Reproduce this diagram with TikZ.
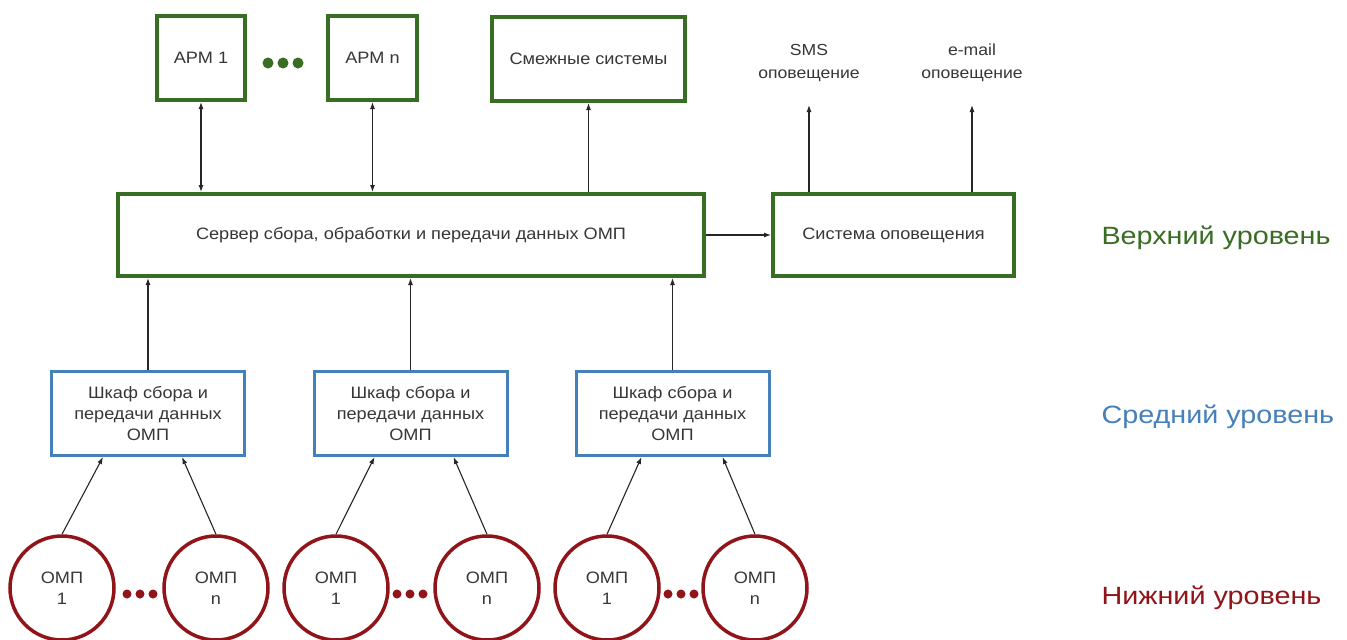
\documentclass[tikz,border=0pt]{standalone}
\usepackage{fontspec}
\setmainfont{Liberation Sans}[FakeStretch=1.1]
\newfontfamily\lvlfont{Liberation Sans}[FakeStretch=1.15]
\usetikzlibrary{arrows.meta,calc}
\definecolor{topgreen}{RGB}{56,110,35}
\definecolor{midblue}{RGB}{70,128,185}
\definecolor{lowred}{RGB}{145,20,25}
\definecolor{txt}{RGB}{55,55,55}
\begin{document}
\begin{tikzpicture}[x=1pt,y=-1pt,
  topbox/.style={draw=topgreen,line width=4pt,inner sep=0pt,align=center,text=txt,font=\fontsize{16.5}{19}\selectfont},
  midbox/.style={draw=midblue,line width=3pt,inner sep=0pt,align=center,text=txt,font=\fontsize{16.5}{21}\selectfont,minimum width=193pt,minimum height=84pt},
  omp/.style={draw=lowred,line width=3.5pt,circle,inner sep=0pt,minimum size=104pt,align=center,text=txt,font=\fontsize{16.5}{21}\selectfont},
  plain/.style={align=center,text=txt,font=\fontsize{16}{23}\selectfont},
  lvl/.style={anchor=west,font=\lvlfont\fontsize{25}{28}\selectfont},
  conn/.style={draw=black!85,line width=1.1pt,-{Latex[length=7pt,width=5pt]}},
  bconn/.style={draw=black!85,line width=1.1pt,{Latex[length=7pt,width=5pt]}-{Latex[length=7pt,width=5pt]}}
]
\useasboundingbox[fill=white] (0,0) rectangle (1347,640);

% top level
\node[topbox,minimum width=88pt,minimum height=84pt] (apm1) at (201,58) {АРМ 1};
\node[topbox,minimum width=89pt,minimum height=84pt] (apmn) at (372.5,58) {АРМ n};
\node[topbox,minimum width=193pt,minimum height=84pt] (adj) at (588.5,59) {Смежные системы};
\node[topbox,minimum width=586pt,minimum height=82pt] (srv) at (411,235) {Сервер сбора, обработки и передачи данных ОМП};
\node[topbox,minimum width=241pt,minimum height=82pt] (ntf) at (893.5,235) {Система оповещения};
\node[plain] (sms) at (809,63) {SMS\\оповещение};
\node[plain] (mail) at (972,63) {e-mail\\оповещение};
\coordinate (smsend) at (809,105);
\coordinate (mailend) at (972,105);

\foreach \x in {268,283,298} \fill[topgreen] (\x,63) circle (5.5pt);

\draw[bconn] (apm1.south) -- (apm1.south |- srv.north);
\draw[bconn] (apmn.south) -- (apmn.south |- srv.north);
\draw[conn] (adj.south |- srv.north) -- (adj.south);
\draw[conn] (srv.east) -- (ntf.west);
\draw[conn] (smsend |- ntf.north) -- (smsend);
\draw[conn] (mailend |- ntf.north) -- (mailend);

% middle level
\node[midbox] (cab1) at (148,413.5) {Шкаф сбора и\\передачи данных\\ОМП};
\node[midbox] (cab2) at (410.5,413.5) {Шкаф сбора и\\передачи данных\\ОМП};
\node[midbox] (cab3) at (672.5,413.5) {Шкаф сбора и\\передачи данных\\ОМП};
\foreach \c in {cab1,cab2,cab3} \draw[conn] (\c.north) -- (\c.north |- srv.south);

% lower level
\node[omp] (o11) at (62,588) {ОМП\\1};
\node[omp] (o1n) at (216,588) {ОМП\\n};
\node[omp] (o21) at (336,588) {ОМП\\1};
\node[omp] (o2n) at (487,588) {ОМП\\n};
\node[omp] (o31) at (607,588) {ОМП\\1};
\node[omp] (o3n) at (755,588) {ОМП\\n};
\foreach \x in {127,140,153, 397,410,423, 668,681,694} \fill[lowred] (\x,594) circle (4.5pt);

\draw[conn] (o11.north) -- ([xshift=-45pt]cab1.south);
\draw[conn] (o1n.north) -- ([xshift=34pt]cab1.south);
\draw[conn] (o21.north) -- ([xshift=-36pt]cab2.south);
\draw[conn] (o2n.north) -- ([xshift=43pt]cab2.south);
\draw[conn] (o31.north) -- ([xshift=-31pt]cab3.south);
\draw[conn] (o3n.north) -- ([xshift=50pt]cab3.south);

% level labels
\node[lvl,text=topgreen] (lvtop) at (1098,238) {Верхний уровень};
\node[lvl,text=midblue] (lvmid) at (1098,417) {Средний уровень};
\node[lvl,text=lowred] (lvlow) at (1098,598) {Нижний уровень};
\end{tikzpicture}
\end{document}
